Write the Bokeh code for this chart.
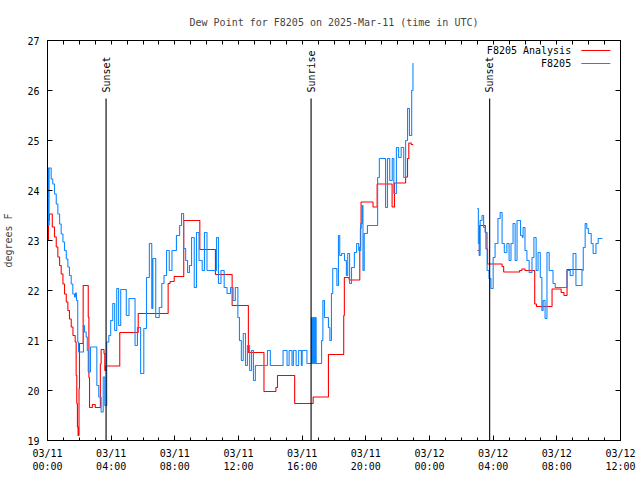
from bokeh.plotting import figure
from bokeh.models import FixedTicker, LinearAxis, Label, Range1d
from bokeh.embed import file_html
from bokeh.resources import INLINE
import math

# ---- data (hours since 2025-03-11 00:00 UTC, dew point in F) ----
obs_day1_hours = [0.00, 0.03, 0.10, 0.23, 0.33, 0.44, 0.55, 0.65, 0.76, 0.86, 0.97, 1.07, 1.18, 1.28, 1.38,
                  1.49, 1.59, 1.70, 1.76, 1.82, 1.90, 1.95, 2.26, 2.32, 2.43, 2.50, 2.56, 2.70, 3.10, 3.22,
                  3.37, 3.50, 3.60, 3.72, 3.85, 3.97, 4.10, 4.22, 4.35, 4.47, 4.60, 4.95, 5.12, 5.50, 5.65,
                  5.85, 6.05, 6.22, 6.40, 6.55, 6.62, 6.80, 7.02, 7.18, 7.32, 7.48, 7.65, 7.82, 8.10, 8.30,
                  8.42, 8.55, 8.68, 8.80, 8.92, 9.05, 9.22, 9.36, 9.52, 9.72, 9.86, 10.02, 10.62, 10.74,
                  10.90, 11.10, 11.28, 11.50, 11.66, 11.80, 11.96, 12.06, 12.18, 12.30, 12.44, 12.56, 12.70,
                  12.82, 12.94, 13.06, 13.82, 14.00, 14.80, 15.05, 15.18, 15.36, 15.45, 15.62, 15.78, 15.95,
                  16.00, 16.30, 16.58, 16.64, 16.70, 16.76, 16.82, 16.88, 17.22, 17.30, 17.40, 17.65, 17.74,
                  17.84, 17.92, 18.18, 18.28, 18.36, 18.48, 18.66, 18.78, 18.86, 18.98, 19.10, 19.28, 19.42,
                  19.55, 19.68, 19.76, 19.82, 19.90, 20.10, 20.74, 20.85, 21.24, 21.36, 21.50, 21.66, 21.76,
                  21.92, 22.06, 22.22, 22.38, 22.50, 22.62, 22.74, 22.88, 22.96, 23.00]
obs_day1_dewpt = [24.46, 23.30, 24.45, 24.23, 24.13, 23.93, 23.73, 23.53, 23.33, 23.13, 22.97, 22.80, 22.63,
                  22.47, 22.30, 22.13, 21.93, 21.87, 21.95, 21.80, 20.97, 20.77, 21.30, 21.17, 21.07, 20.80,
                  20.37, 20.87, 20.10, 19.87, 19.57, 20.27, 19.70, 20.97, 21.10, 21.40, 21.74, 21.20, 22.04,
                  21.30, 22.02, 21.50, 21.84, 20.90, 21.26, 20.34, 21.24, 22.26, 22.94, 21.64, 22.64, 21.46,
                  21.66, 22.14, 22.30, 22.80, 22.40, 22.80, 23.10, 23.30, 23.54, 22.84, 22.60, 22.36, 22.50,
                  23.06, 22.06, 23.16, 22.60, 22.40, 23.16, 22.40, 23.06, 22.14, 22.40, 22.06, 21.94, 22.06,
                  21.80, 22.06, 21.46, 21.00, 20.60, 21.14, 20.50, 20.90, 20.40, 20.80, 20.20, 20.50, 20.80,
                  20.50, 20.80, 20.50, 20.80, 20.50, 20.80, 20.50, 20.80, 20.50, 20.80, 20.54, 21.46, 20.54,
                  21.46, 20.54, 21.46, 20.54, 21.00, 21.80, 21.46, 21.26, 21.00, 21.94, 22.44, 22.10, 23.10,
                  22.70, 22.74, 22.60, 22.30, 22.74, 22.14, 22.46, 22.76, 22.94, 22.80, 23.34, 23.70, 22.40,
                  23.14, 23.30, 24.26, 24.64, 23.66, 24.64, 24.20, 24.64, 23.94, 24.86, 24.66, 24.86, 24.26,
                  25.00, 25.64, 25.10, 26.00, 26.54, 26.54]

obs_day2_hours = [27.00, 27.07, 27.12, 27.18, 27.30, 27.40, 27.50, 27.62, 27.74, 27.86, 28.00, 28.12, 28.30,
                  28.44, 28.56, 28.70, 28.86, 29.00, 29.12, 29.25, 29.38, 29.50, 29.72, 29.84, 29.88, 30.00,
                  30.12, 30.26, 30.44, 30.56, 30.70, 30.82, 30.96, 31.06, 31.14, 31.26, 31.38, 31.52, 31.76,
                  31.90, 32.64, 32.84, 33.02, 33.20, 33.58, 33.66, 33.78, 33.88, 33.98, 34.16, 34.28, 34.46,
                  34.60, 34.86]
obs_day2_dewpt = [23.64, 22.94, 22.70, 23.40, 23.50, 23.26, 23.16, 22.40, 22.24, 22.04, 22.66, 22.94, 23.44,
                  23.56, 22.94, 22.76, 22.94, 22.60, 22.94, 23.34, 22.60, 23.40, 23.10, 23.06, 23.26, 22.80,
                  22.60, 22.36, 22.66, 23.06, 22.40, 22.76, 22.26, 21.60, 21.80, 21.44, 22.76, 22.40, 22.14,
                  22.06, 22.40, 22.30, 22.74, 22.10, 22.40, 22.86, 23.34, 23.24, 23.14, 22.94, 22.74, 22.94,
                  23.04, 23.04]

ana_day1_hours = [0.00, 0.06, 0.12, 0.30, 0.44, 0.55, 0.65, 0.76, 0.86, 0.97, 1.07, 1.18, 1.28, 1.38, 1.49,
                  1.60, 1.74, 1.80, 1.84, 1.88, 1.92, 1.98, 2.01, 2.24, 2.56, 2.60, 2.64, 2.82, 3.00, 3.32,
                  3.37, 3.55, 3.60, 3.68, 4.54, 5.70, 7.58, 7.70, 7.96, 8.56, 9.57, 10.55, 11.60, 12.62,
                  13.60, 14.35, 14.45, 15.53, 16.69, 17.65, 18.61, 18.65, 18.95, 19.62, 19.66, 19.70, 20.45,
                  20.71, 21.65, 21.80, 22.50, 22.62, 22.70, 22.85, 22.97]
ana_day1_dewpt = [23.00, 23.40, 23.53, 23.27, 23.07, 22.87, 22.67, 22.50, 22.33, 22.13, 21.93, 21.77, 21.60,
                  21.43, 21.27, 21.10, 20.97, 20.30, 19.74, 19.27, 19.10, 20.04, 20.94, 22.10, 21.47, 20.26,
                  19.66, 19.72, 19.66, 20.53, 20.82, 20.74, 20.40, 20.49, 21.16, 21.54, 22.14, 22.18, 22.28,
                  23.40, 22.82, 22.32, 21.70, 20.76, 19.98, 20.06, 20.30, 19.74, 19.87, 20.72, 21.50, 22.26,
                  22.21, 22.87, 23.24, 23.77, 23.67, 24.13, 23.67, 24.15, 24.27, 24.64, 24.95, 24.92, 24.92]

ana_day2_hours = [27.02, 27.15, 27.51, 27.55, 27.65, 28.56, 28.66, 29.66, 29.80, 30.00, 30.61, 30.72, 31.70,
                  32.27, 32.45, 32.64, 33.62]
ana_day2_dewpt = [22.80, 23.30, 23.17, 22.83, 22.53, 22.48, 22.37, 22.40, 22.43, 22.40, 21.73, 21.68, 22.03,
                  21.96, 21.90, 22.42, 22.42]

event_hours = [3.68, 16.56, 27.78]
event_names = ["Sunset", "Sunrise", "Sunset"]

x_tick_hours = [0, 4, 8, 12, 16, 20, 24, 28, 32, 36]
x_tick_labels = ["03/11\n00:00", "03/11\n04:00", "03/11\n08:00", "03/11\n12:00", "03/11\n16:00",
                 "03/11\n20:00", "03/12\n00:00", "03/12\n04:00", "03/12\n08:00", "03/12\n12:00"]
y_ticks = [19, 20, 21, 22, 23, 24, 25, 26, 27]

series_names = ["F8205 Analysis", "F8205"]
RED = "#ff0000"
BLUE = "#1188ff"
FONT = "DejaVu Sans Mono"
FS = "10px"
LW = 1.1

X0, X1 = 0, 36
Y0, Y1 = 19, 27

p = figure(width=640, height=480, x_range=Range1d(X0, X1), y_range=Range1d(Y0, Y1),
           output_backend="svg", toolbar_location=None,
           min_border_left=47, min_border_right=20, min_border_top=40, min_border_bottom=40,
           x_axis_location=None, y_axis_location=None)
p.grid.visible = False
p.outline_line_color = "black"
p.outline_line_width = 1
p.background_fill_color = "white"
p.border_fill_color = "white"

p.title.text = "Dew Point for F8205 on 2025-Mar-11 (time in UTC)"
p.title.align = "center"
p.title.text_font = FONT
p.title.text_font_size = FS
p.title.text_font_style = "normal"
p.title.standoff = 25


def style_axis(ax):
    ax.axis_line_color = "black"
    ax.major_tick_in = 5
    ax.major_tick_out = 0
    ax.minor_tick_in = 3
    ax.minor_tick_out = 0
    ax.major_tick_line_color = "black"
    ax.minor_tick_line_color = "black"
    ax.major_label_text_font = FONT
    ax.major_label_text_font_size = FS
    ax.major_label_text_color = "black"
    ax.major_label_standoff = 7
    ax.axis_label_text_font = FONT
    ax.axis_label_text_font_size = FS
    ax.axis_label_text_font_style = "normal"


bottom = LinearAxis(ticker=FixedTicker(ticks=x_tick_hours, minor_ticks=list(range(X0, X1 + 1))))
bottom.major_label_overrides = {h: lab for h, lab in zip(x_tick_hours, x_tick_labels)}
style_axis(bottom)
p.add_layout(bottom, "below")

# mirrored ticks (no labels): only minor ticks, so nothing is written
top = LinearAxis(ticker=FixedTicker(ticks=[], minor_ticks=list(range(X0, X1 + 1))))
style_axis(top)
top.minor_tick_in = 4
top.major_label_standoff = 0
p.add_layout(top, "above")

left = LinearAxis(ticker=FixedTicker(ticks=y_ticks, minor_ticks=[]), axis_label="degrees F")
style_axis(left)
left.major_label_standoff = 8
left.axis_label_standoff = 10
p.add_layout(left, "left")

right = LinearAxis(ticker=FixedTicker(ticks=[], minor_ticks=y_ticks))
style_axis(right)
right.minor_tick_in = 5
right.major_label_standoff = 0
p.add_layout(right, "right")

# data series
p.step(ana_day1_hours, ana_day1_dewpt, mode="after", line_color=RED, line_width=LW)
p.step(ana_day2_hours, ana_day2_dewpt, mode="after", line_color=RED, line_width=LW)
p.step(obs_day1_hours, obs_day1_dewpt, mode="after", line_color=BLUE, line_width=LW)
p.step(obs_day2_hours, obs_day2_dewpt, mode="after", line_color=BLUE, line_width=LW)

# sunrise / sunset markers
ev_top = Y1 - 1.16
p.segment(x0=event_hours, y0=[Y0] * len(event_hours), x1=event_hours, y1=[ev_top] * len(event_hours),
          line_color="black", line_width=1.1)
for h, name in zip(event_hours, event_names):
    p.add_layout(Label(x=h, y=ev_top + 0.12, text=name, angle=math.pi / 2, text_align="left",
                       text_baseline="middle", text_font=FONT, text_font_size=FS, text_color="black"))

# key (text right-aligned, sample line to its right, as in the original)
key_x_text = X1 - 3.1
key_x0, key_x1 = X1 - 2.46, X1 - 0.64
key_rows = [Y1 - 0.2, Y1 - 0.46]
for name, col, yy in zip(series_names, [RED, BLUE], key_rows):
    p.add_layout(Label(x=key_x_text, y=yy, text=name, text_align="right", text_baseline="middle",
                       text_font=FONT, text_font_size=FS, text_color="black"))
    p.line([key_x0, key_x1], [yy, yy], line_color=col, line_width=LW)

open("out.html", "w").write(file_html(p, INLINE))
